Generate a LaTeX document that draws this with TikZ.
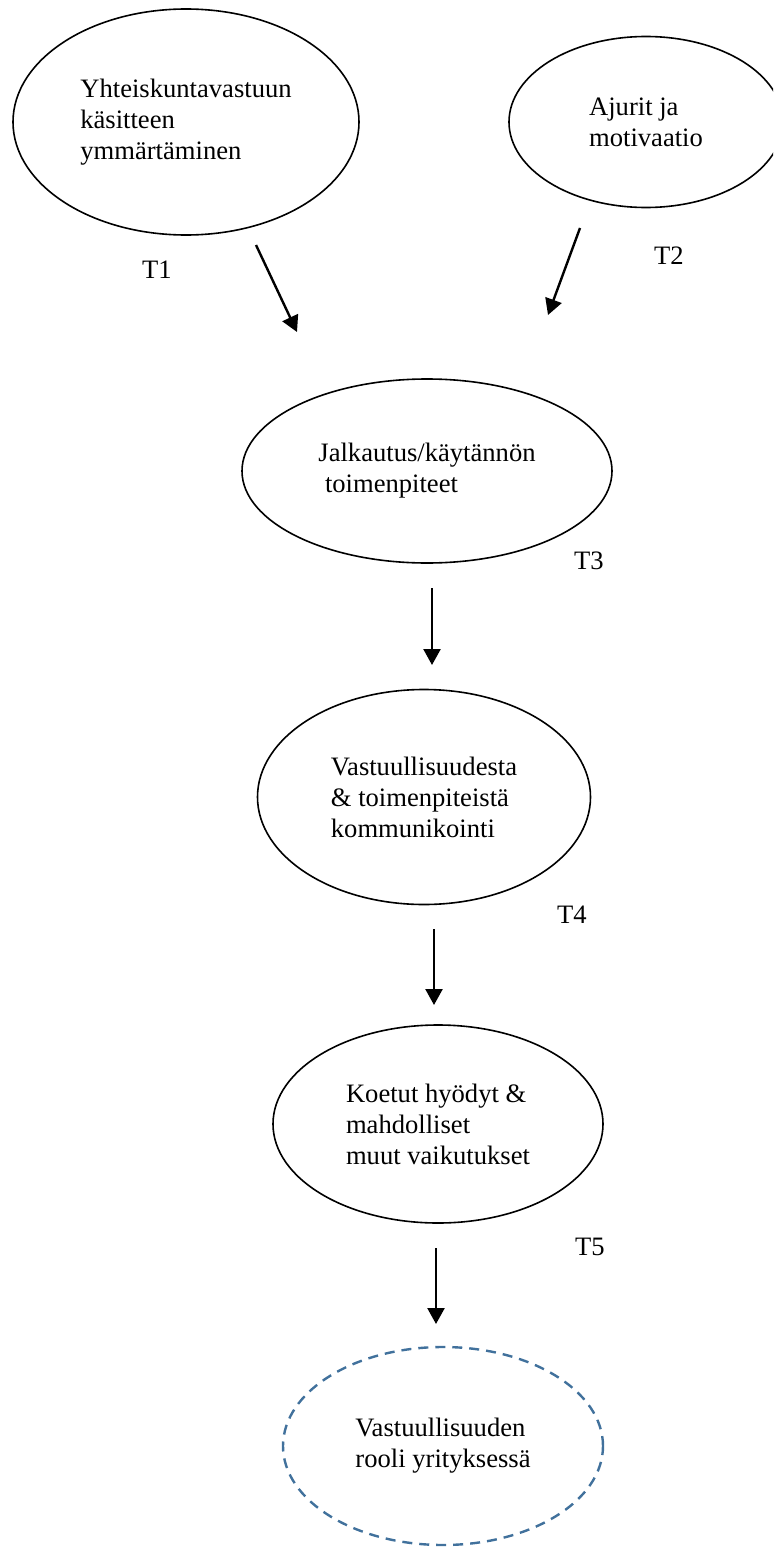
\documentclass[tikz,border=0pt]{standalone}
\usepackage{fontspec}
\setmainfont{Liberation Serif}
\usepackage{xcolor}
\definecolor{ColD}{RGB}{65,113,156}
\usepackage{tikz}
\usetikzlibrary{shapes.geometric}
\usetikzlibrary{arrows.meta}
\tikzstyle{Node}=[ellipse,draw=black,line width=.8pt,inner sep=1pt,
align=left,font=\fontsize{13.3}{15.5}\selectfont]
\tikzstyle{NodeD}=[Node,draw=ColD,line width=1.2pt,dash pattern=on 5pt off 3.5pt]
\tikzstyle{Edge}=[draw=black,line width=1.2pt,-{Triangle[length=8pt,width=8.5pt]}]
\tikzstyle{NodeT}=[font=\fontsize{13.3}{15.5}\selectfont,inner sep=0pt]

\begin{document}
\begin{tikzpicture}[x=.5pt,y=-.5pt]
        \clip(0,0)rectangle(773,1552);
        \node[Node,minimum width=173pt,minimum height=113pt](1)at(186,122)
            {Yhteiskuntavastuun\\käsitteen\\ymmärtäminen};
        \node[Node,minimum width=137pt,minimum height=85.5pt](2)at(646,122)
            {Ajurit ja\\motivaatio};
        \node[Node,minimum width=185pt,minimum height=92pt](3)at(427,471)
            {Jalkautus/käytännön\\\hspace{3.3pt}toimenpiteet};
        \node[Node,minimum width=166.5pt,minimum height=107.5pt](4)at(424,797)
            {Vastuullisuudesta\\\& toimenpiteistä\\kommunikointi};
        \node[Node,minimum width=165pt,minimum height=99pt](5)at(438,1124)
            {Koetut hyödyt \&\\mahdolliset\\muut vaikutukset};
        \node[NodeD,minimum width=160pt,minimum height=99pt](6)at(443,1446)
            {Vastuullisuuden\\rooli yrityksessä};
        \node[NodeT](t1)at(157,270){T1};
        \node[NodeT](t2)at(669,256){T2};
        \node[NodeT](t3)at(589,561){T3};
        \node[NodeT](t4)at(572,915){T4};
        \node[NodeT](t5)at(590,1247){T5};
        \coordinate(a1)at(256,245);
        \coordinate(b1)at(297,332);
        \coordinate(a2)at(580,228);
        \coordinate(b2)at(548,315);
        \coordinate(a3)at(432,588);
        \coordinate(b3)at(432,665);
        \coordinate(a4)at(434,929);
        \coordinate(b4)at(434,1005);
        \coordinate(a5)at(436,1248);
        \coordinate(b5)at(436,1324);
        \draw[Edge](a1)--(b1);
        \draw[Edge](a2)--(b2);
        \draw[Edge](a3)--(b3);
        \draw[Edge](a4)--(b4);
        \draw[Edge](a5)--(b5);
    \end{tikzpicture}
\end{document}
